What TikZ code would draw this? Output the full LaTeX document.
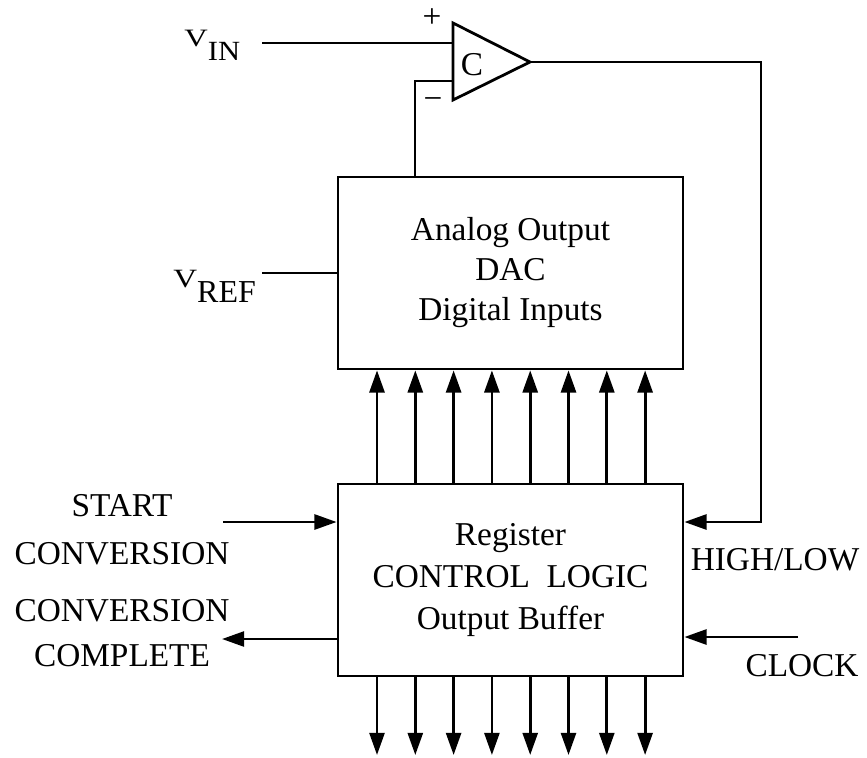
\documentclass[tikz,border=0pt]{standalone}
\usepackage{fontspec}
\usepackage{graphicx}
\setmainfont{Liberation Serif}
\usetikzlibrary{arrows.meta}

\begin{document}
\begin{tikzpicture}[x=0.36pt, y=-0.36pt, line width=1pt,
    >={Triangle[length=8pt,width=5.4pt]},
    blk/.style={draw, minimum width=124.2pt, minimum height=69.1pt, inner sep=0pt, align=center},
    lbl/.style={font=\fontsize{12}{14}\selectfont, inner sep=0pt, align=center}]
    \useasboundingbox (0,0) rectangle (867,757);

    % ブロック
    \node[blk, font=\fontsize{12}{14.4}\selectfont] (dac) at (510.5,273) {Analog Output\\DAC\\Digital Inputs};
    \node[blk, font=\fontsize{12}{15.1}\selectfont] (reg) at (510.5,580) {Register\\CONTROL\ \ LOGIC\\Output Buffer};

    % 比較器
    \coordinate (cp) at (453,43);
    \coordinate (cm) at (453,81);
    \coordinate (co) at (530,62);
    \draw (453,23) -- (453,100) -- (co) -- cycle;
    \node[lbl] (cmpC) at (472,65) {C};
    \node[lbl] (plus) at (432,18) {+};
    \node[lbl] (minus) at (433,104) {−};

    % 入力
    \node[anchor=base west, inner sep=0pt] (vin) at (183,47)
        {\scalebox{1.3}[1]{\fontsize{9}{10}\selectfont V}\raisebox{-4.7pt}{\scalebox{1.1}[1]{\fontsize{10}{11}\selectfont IN}}};
    \node[anchor=base west, inner sep=0pt] (vref) at (172,287)
        {\scalebox{1.25}[1]{\fontsize{9.5}{10}\selectfont V}\raisebox{-5.4pt}{\fontsize{11.5}{12}\selectfont REF}};
    \coordinate (vinw) at (262,43);
    \coordinate (vrefw) at (262,273);
    \draw (vinw) -- (cp);
    \draw (vrefw) -- (dac.west |- vrefw);
    \draw (cm) -- (415,81) coordinate (fbk) -- (dac.north -| fbk);

    % データ線
    \foreach \i in {0,...,7} {
        \coordinate (b\i) at (377+38.3*\i,755);
        \draw[->] (reg.north -| b\i) -- (dac.south -| b\i);
        \draw[->] (reg.south -| b\i) -- (b\i);
    }

    % 帰還と制御信号
    \coordinate (hl) at (761,522);
    \draw[->] (co) -| (hl) -- (reg.east |- hl);
    \coordinate (clk) at (798,637);
    \draw[->] (clk) -- (reg.east |- clk);
    \coordinate (st) at (223,522);
    \draw[->] (st) -- (reg.west |- st);
    \coordinate (cc) at (222,639);
    \draw[->] (reg.west |- cc) -- (cc);

    % ラベル
    \node[lbl, font=\fontsize{12}{17.3}\selectfont] (start) at (122,530) {START\\CONVERSION};
    \node[lbl, font=\fontsize{12}{16.2}\selectfont] (done) at (122,633) {CONVERSION\\COMPLETE};
    \node[lbl] (hilo) at (775,560) {HIGH/LOW};
    \node[lbl] (clock) at (802,666) {CLOCK};
\end{tikzpicture}
\end{document}
